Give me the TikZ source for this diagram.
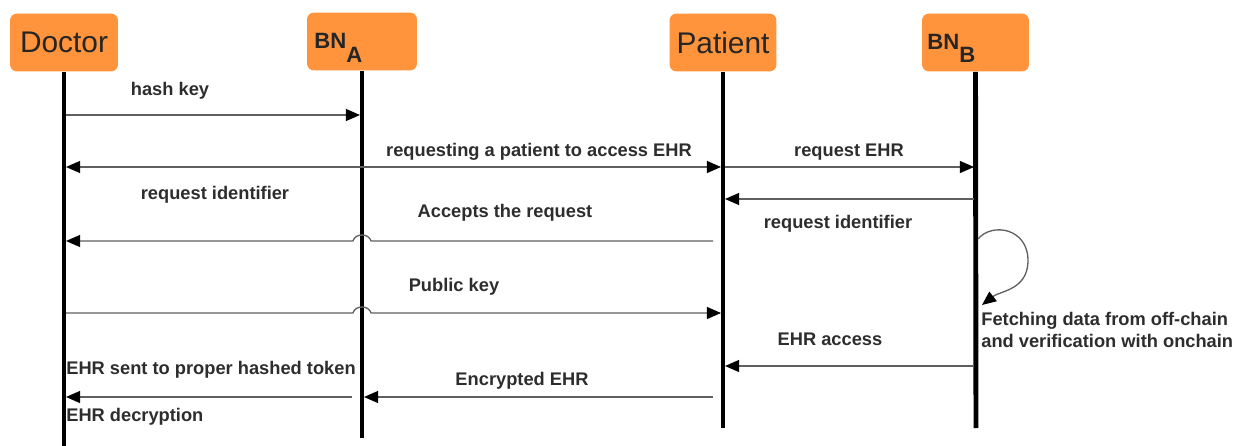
\documentclass[tikz,border=0pt]{standalone}
\usepackage{fontspec}
\setmainfont{Liberation Sans}
\usetikzlibrary{arrows.meta,calc}
\definecolor{boxorange}{RGB}{255,148,60}
\definecolor{txt}{RGB}{45,45,45}
\definecolor{msggray}{RGB}{95,95,95}
\begin{document}
\begin{tikzpicture}[x=0.02cm,y=-0.02cm,
  >={Triangle[length=8pt,width=6.8pt,color=black]},
  actor/.style={fill=boxorange, rounded corners=4pt, minimum height=1.16cm, inner sep=0pt,
    font=\fontsize{17}{20}\selectfont, text=black!85},
  bnlabel/.style={font=\bfseries\fontsize{12.6}{14}\selectfont, text=black!85, inner sep=0pt},
  life/.style={line width=2.8pt, black},
  msg/.style={line width=0.75pt, msggray, ->},
  msgboth/.style={line width=0.75pt, msggray, <->},
  lbl/.style={font=\bfseries\fontsize{10.4}{12.5}\selectfont, text=txt, inner sep=0pt},
]
\useasboundingbox (0,0) rectangle (1242,446);

% actors
\node[actor, minimum width=2.16cm] (doc) at (64,42.5) {Doctor};
\node[actor, minimum width=2.2cm] (bna) at (362,41.5) {};
\node[bnlabel, anchor=base west] (bnat) at (314,48.5) {BN\raisebox{-0.29cm}{A}};
\node[actor, minimum width=2.14cm] (pat) at (723,42.5) {Patient};
\node[actor, minimum width=2.14cm] (bnb) at (975.5,42.5) {};
\node[bnlabel, anchor=base west] (bnbt) at (927,49.5) {BN\raisebox{-0.27cm}{B}};

% lifelines
\coordinate (docE) at (64,446);
\coordinate (bnaE) at (362,438);
\coordinate (patE) at (723,428);
\coordinate (bnbE) at (976,428);
\draw[life] (doc.south) -- (docE);
\draw[life] (bna.south) -- (bnaE);
\draw[life] (pat.south) -- (patE);
\draw[life] (bnb.south) -- (bnbE);

% 1 hash key
\coordinate (m1a) at (66,115);
\coordinate (m1b) at (360,115);
\draw[msg] (m1a) -- (m1b);
\node[lbl] (l1) at (170,91) {hash key};

% 2 doctor <-> patient
\coordinate (m2a) at (66,167);
\coordinate (m2b) at (721,167);
\draw[msgboth] (m2a) -- (m2b);
\node[lbl] (l2) at (539,152) {requesting a patient to access EHR};
\node[lbl] (l2b) at (215,195) {request identifier};

% 3 request EHR
\coordinate (m3a) at (725,167);
\coordinate (m3b) at (974,167);
\draw[msg] (m3a) -- (m3b);
\node[lbl] (l3) at (849,152) {request EHR};

% 4 BN_B -> patient
\coordinate (m4a) at (974,199);
\coordinate (m4b) at (725,199);
\draw[msg] (m4a) -- (m4b);
\node[lbl] (l4) at (838,224) {request identifier};

% 5 accepts the request
\coordinate (m5a) at (713,241);
\coordinate (h5r) at (371,241);
\coordinate (h5l) at (353,241);
\coordinate (m5b) at (66,241);
\draw[msg] (m5a) -- (h5r) .. controls +(-2,-8) and +(2,-8) .. (h5l) -- (m5b);
\node[lbl] (l5) at (505,213) {Accepts the request};

% 6 public key
\coordinate (m6a) at (66,313);
\coordinate (h6l) at (353,313);
\coordinate (h6r) at (371,313);
\coordinate (m6b) at (721,313);
\draw[msg] (m6a) -- (h6l) .. controls +(2,-8) and +(-2,-8) .. (h6r) -- (m6b);
\node[lbl] (l6) at (454,287) {Public key};

% 7 self loop
\coordinate (s1) at (978,239);
\coordinate (s2) at (982,305);
\draw[msg] (s1) .. controls (992,222) and (1029,228) .. (1028,262)
  .. controls (1027,290) and (1000,291) .. (s2);
\node[lbl, align=left, anchor=west] (l7) at (981,330)
  {Fetching data from off-chain\\and verification with onchain};

% 8 EHR access
\coordinate (m8a) at (974,366);
\coordinate (m8b) at (725,366);
\draw[msg] (m8a) -- (m8b);
\node[lbl] (l8) at (830,339) {EHR access};

% 9 encrypted EHR
\coordinate (m9a) at (713,397);
\coordinate (m9b) at (364,397);
\draw[msg] (m9a) -- (m9b);
\node[lbl] (l9) at (522,381) {Encrypted EHR};

% 10 BN_A -> doctor
\coordinate (m10a) at (352,397);
\coordinate (m10b) at (66,397);
\draw[msg] (m10a) -- (m10b);
\node[lbl, anchor=west] (l10) at (66,370) {EHR sent to proper hashed token};
\node[lbl, anchor=west] (l10b) at (66,417) {EHR decryption};
\end{tikzpicture}
\end{document}
